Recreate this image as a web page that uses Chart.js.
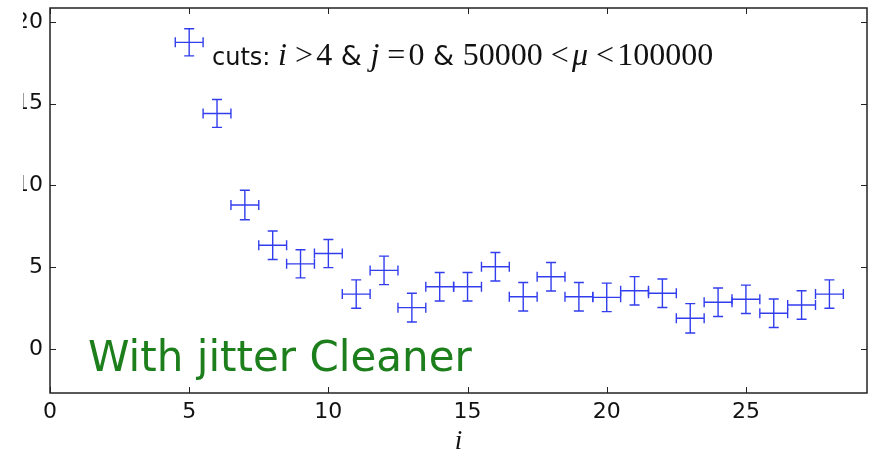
<html lang="en">
<head>
<meta charset="UTF-8">
<title>cuts i>4</title>
<script src="https://cdn.jsdelivr.net/npm/chart.js"></script>
<style>
  body { margin: 0; background: white; }
  #wrap { width: 875px; height: 453px; position: relative; }
</style>
</head>
<body>
<div id="wrap"><canvas id="c"></canvas></div>
<script>
// bin i, mean value, errors
const iValues = [5, 6, 7, 8, 9, 10, 11, 12, 13, 14, 15, 16, 17, 18, 19, 20, 21, 22, 23, 24, 25, 26, 27, 28];
const yValues = [18.75, 14.4, 8.8, 6.34, 5.2, 5.83, 3.35, 4.8, 2.52, 3.8, 3.8, 5.02, 3.19, 4.41, 3.19, 3.15, 3.55, 3.4, 1.87, 2.85, 3.03, 2.18, 2.68, 3.35];
const yErrors = [0.83, 0.85, 0.9, 0.87, 0.86, 0.86, 0.87, 0.87, 0.88, 0.87, 0.87, 0.87, 0.87, 0.87, 0.87, 0.87, 0.87, 0.87, 0.9, 0.87, 0.87, 0.87, 0.87, 0.87];
const xErrors = [0.5, 0.5, 0.5, 0.5, 0.5, 0.5, 0.5, 0.5, 0.5, 0.5, 0.5, 0.5, 0.5, 0.5, 0.5, 0.5, 0.5, 0.5, 0.5, 0.5, 0.5, 0.5, 0.5, 0.5];
const xTicks = [0, 5, 10, 15, 20, 25];
const yTicks = [0, 5, 10, 15, 20];

const SANS = '"DejaVu Sans", sans-serif';
const SERIF = '"Liberation Serif", serif';

// matplotlib style: errorbars, inward ticks on all sides, box frame, text
const mplPlugin = {
  id: 'mpl',
  beforeDraw(chart) {
    const ctx = chart.ctx;
    ctx.save();
    ctx.beginPath();
    ctx.rect(23, 0, chart.width, chart.height); // left edge of the picture is cut
    ctx.clip();
  },
  afterDatasetsDraw(chart) {
    const ctx = chart.ctx;
    const xs = chart.scales.x, ys = chart.scales.y;
    ctx.save();
    ctx.strokeStyle = 'rgb(50,62,238)';
    ctx.lineWidth = 1.4;
    const cap = 5;
    iValues.forEach((xv, k) => {
      const px = xs.getPixelForValue(xv), py = ys.getPixelForValue(yValues[k]);
      const x0 = xs.getPixelForValue(xv - xErrors[k]), x1 = xs.getPixelForValue(xv + xErrors[k]);
      const y0 = ys.getPixelForValue(yValues[k] - yErrors[k]), y1 = ys.getPixelForValue(yValues[k] + yErrors[k]);
      ctx.beginPath();
      ctx.moveTo(x0, py); ctx.lineTo(x1, py);
      ctx.moveTo(px, y0); ctx.lineTo(px, y1);
      ctx.moveTo(x0, py - cap); ctx.lineTo(x0, py + cap);
      ctx.moveTo(x1, py - cap); ctx.lineTo(x1, py + cap);
      ctx.moveTo(px - cap, y0); ctx.lineTo(px + cap, y0);
      ctx.moveTo(px - cap, y1); ctx.lineTo(px + cap, y1);
      ctx.stroke();
    });
    ctx.restore();
  },
  afterDraw(chart) {
    const ctx = chart.ctx;
    const a = chart.chartArea;
    const xs = chart.scales.x, ys = chart.scales.y;
    ctx.save();
    ctx.strokeStyle = '#222';
    ctx.lineWidth = 1.5;
    ctx.strokeRect(a.left, a.top, a.right - a.left, a.bottom - a.top);
    ctx.lineWidth = 1;
    ctx.beginPath();
    const tl = 6;
    xTicks.forEach(v => {
      const p = Math.round(xs.getPixelForValue(v)) + 0.5;
      ctx.moveTo(p, a.bottom); ctx.lineTo(p, a.bottom - tl);
      ctx.moveTo(p, a.top); ctx.lineTo(p, a.top + tl);
    });
    yTicks.forEach(v => {
      const p = Math.round(ys.getPixelForValue(v)) + 0.5;
      ctx.moveTo(a.left, p); ctx.lineTo(a.left + tl, p);
      ctx.moveTo(a.right, p); ctx.lineTo(a.right - tl, p);
    });
    ctx.stroke();

    // cuts label: sans text with mathtext-like serif pieces
    // [text, font, space after (em of math size)]
    const ms = 32, gb = 0.25, ga = 0.1;
    const M = ms + 'px ' + SERIF, MI = 'italic ' + ms + 'px ' + SERIF;
    const S = 'normal 24px ' + SANS, A = 'normal 27px ' + SANS;
    const pieces = [
      ['cuts: ', S, 0],
      ['i', MI, gb], ['>', M, ga], ['4', M, 0],
      [' & ', A, 0],
      ['j', MI, gb], ['=', M, ga], ['0', M, 0],
      [' & ', A, 0],
      ['50000', M, gb], ['<', M, ga], ['\u03bc', MI, gb], ['<', M, ga], ['100000', M, 0]
    ];
    ctx.fillStyle = '#111';
    ctx.textBaseline = 'alphabetic';
    let x = 212;
    const base = 65;
    pieces.forEach(([t, f, gap]) => {
      ctx.font = f;
      ctx.fillText(t, x, base);
      x += ctx.measureText(t).width + gap * ms;
    });

    ctx.fillStyle = '#1c7f1c';
    ctx.font = 'normal 42px ' + SANS;
    ctx.fillText('With jitter Cleaner', 88, 371);
    ctx.restore();
    ctx.restore(); // clip from beforeDraw
  }
};

new Chart(document.getElementById('c'), {
  type: 'scatter',
  data: {
    datasets: [{
      data: iValues.map((v, k) => ({ x: v, y: yValues[k] })),
      pointRadius: 0,
      showLine: false
    }]
  },
  options: {
    responsive: true,
    maintainAspectRatio: false,
    animation: false,
    layout: { padding: { left: 15, right: 8, top: 8, bottom: 0 } },
    plugins: { legend: { display: false }, tooltip: { enabled: false } },
    scales: {
      x: {
        type: 'linear',
        min: 0,
        max: 29.35,
        grid: { display: false, drawTicks: false },
        border: { display: false },
        afterBuildTicks: s => { s.ticks = xTicks.map(v => ({ value: v })); },
        afterFit: s => { s.height = 60; },
        ticks: { color: '#111', font: { family: SANS, size: 22 }, padding: 6, maxRotation: 0 },
        title: { display: true, text: 'i', color: '#111', font: { family: SERIF, style: 'italic', size: 27 }, padding: { top: 0, bottom: -5 } }
      },
      y: {
        type: 'linear',
        min: -2.7,
        max: 20.85,
        grid: { display: false, drawTicks: false },
        border: { display: false },
        afterBuildTicks: s => { s.ticks = yTicks.map(v => ({ value: v })); },
        afterFit: s => { s.width = 35; s.paddingTop = 0; s.paddingBottom = 0; },
        ticks: { color: '#111', font: { family: SANS, size: 22 }, padding: 7 }
      }
    }
  },
  plugins: [mplPlugin]
});
</script>
</body>
</html>
